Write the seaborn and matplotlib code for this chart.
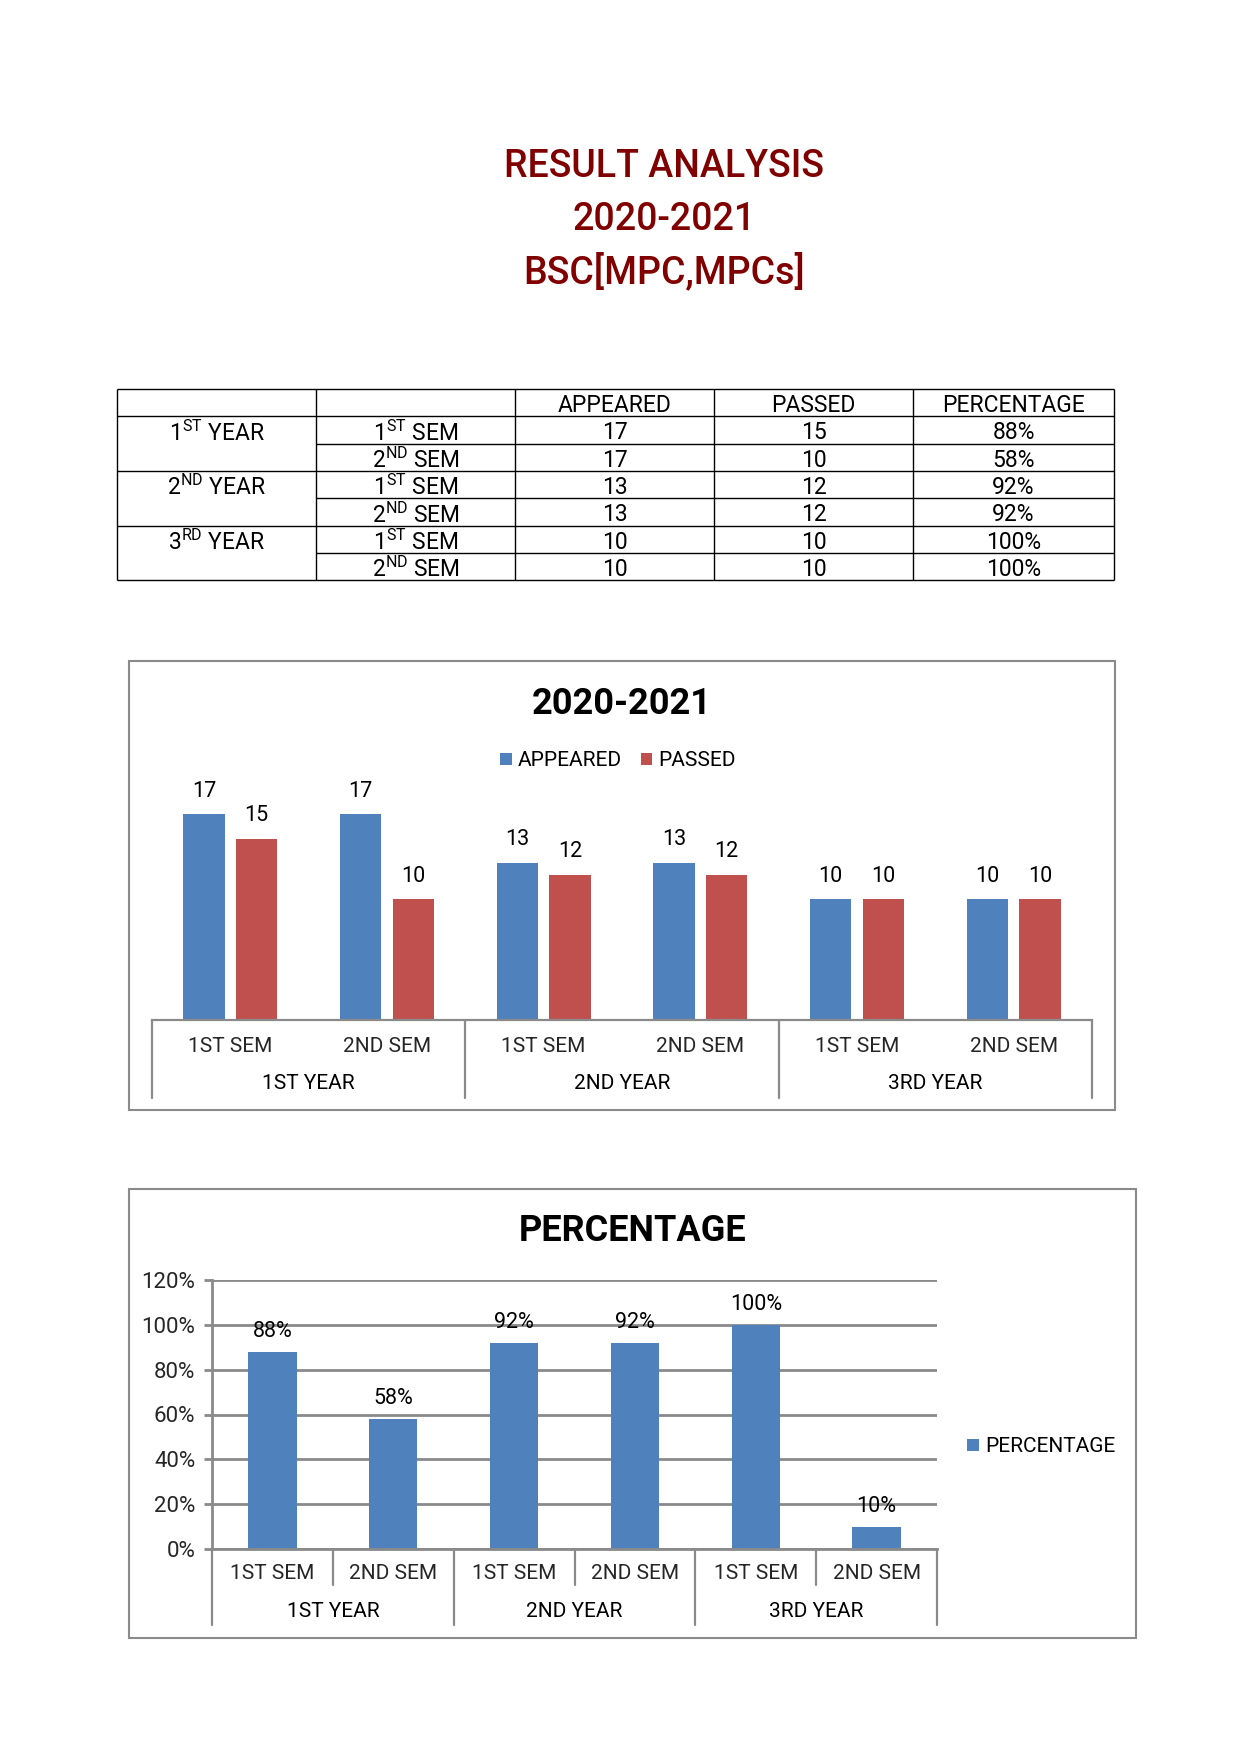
import pandas as pd
import matplotlib
matplotlib.use("Agg")
import matplotlib.pyplot as plt
import seaborn as sns
from matplotlib.patches import Rectangle

# ---- data ----
title_lines = ["RESULT ANALYSIS", "2020-2021", "BSC[MPC,MPCs]"]
years = ["1ST YEAR", "2ND YEAR", "3RD YEAR"]
year_table = [r"1$^{\rm ST}$ YEAR", r"2$^{\rm ND}$ YEAR", r"3$^{\rm RD}$ YEAR"]
sems = ["1ST SEM", "2ND SEM"]
sem_table = [r"1$^{\rm ST}$ SEM", r"2$^{\rm ND}$ SEM"]
header = ["", "", "APPEARED", "PASSED", "PERCENTAGE"]
series = ["APPEARED", "PASSED"]
appeared = [17, 17, 13, 13, 10, 10]
passed = [15, 10, 12, 12, 10, 10]
pct_table = [88, 58, 92, 92, 100, 100]
pct_chart = [88, 58, 92, 92, 100, 10]
pct_ticks = [0, 20, 40, 60, 80, 100, 120]

BLUE = "#4F81BD"
RED = "#C0504D"
TITLE_RED = "#800000"
GRAY = "#8A8A8A"
FS = 15.5

W, H = 1240, 1753

sns.set_theme(style="white")
plt.rcParams["font.family"] = ["Roboto", "DejaVu Sans"]
plt.rcParams["mathtext.fontset"] = "custom"
plt.rcParams["mathtext.rm"] = "Roboto"
plt.rcParams["text.color"] = "black"

fig = plt.figure(figsize=(W / 100, H / 100), dpi=100)


def axes_px(left, top, right, bottom):
    return fig.add_axes([left / W, 1 - bottom / H, (right - left) / W, (bottom - top) / H])


# page layer for titles, table and frames
page = fig.add_axes([0, 0, 1, 1])
page.set_xlim(0, W)
page.set_ylim(H, 0)
page.axis("off")

for txt, y in zip(title_lines, [166, 219, 272]):
    page.text(664, y, txt, ha="center", va="center", fontsize=27,
              color=TITLE_RED, fontweight="medium")

# ---- table ----
col_x = [117, 316, 515, 714, 913, 1114]
row_top, row_h = 389, 27.3
n_rows = 1 + len(appeared)
bottom = row_top + n_rows * row_h
page.vlines(col_x, row_top, bottom, color="black", lw=1)
for k in range(n_rows + 1):
    y = row_top + k * row_h
    x0 = col_x[1] if k in (2, 4, 6) else col_x[0]
    page.hlines(y, x0, col_x[-1], color="black", lw=1)


def cell(row, col, txt):
    cx = (col_x[col] + col_x[col + 1]) / 2
    cy = row_top + (row + 0.5) * row_h + 3
    page.text(cx, cy, txt, ha="center", va="center", fontsize=16.5)


for c, h in enumerate(header):
    cell(0, c, h)
for i in range(len(appeared)):
    if i % 2 == 0:
        cell(i + 1, 0, year_table[i // 2])
    cell(i + 1, 1, sem_table[i % 2])
    cell(i + 1, 2, str(appeared[i]))
    cell(i + 1, 3, str(passed[i]))
    cell(i + 1, 4, f"{pct_table[i]}%")

# chart frames
page.add_patch(Rectangle((129, 661), 986, 449, fill=False, edgecolor=GRAY, lw=1.5))
page.add_patch(Rectangle((129, 1189), 1007, 449, fill=False, edgecolor=GRAY, lw=1.5))
page.text(622, 704, "2020-2021", ha="center", va="center", fontsize=26, fontweight="bold")
page.text(633, 1231, "PERCENTAGE", ha="center", va="center", fontsize=26, fontweight="bold")

slots = [f"{y}|{s}" for y in years for s in sems]
sem_ticks = sems * len(years)

# ---- chart 1: appeared vs passed ----
df1 = pd.DataFrame({
    "slot": slots * 2,
    "count": appeared + passed,
    "series": [series[0]] * len(slots) + [series[1]] * len(slots),
})
ax1 = axes_px(152, 778, 1092, 1020)
sns.barplot(data=df1, x="slot", y="count", hue="series", order=slots, hue_order=series,
            palette=[BLUE, RED], saturation=1, width=0.67, gap=0.21, linewidth=0, ax=ax1)
ax1.set_xlim(-0.5, len(slots) - 0.5)
ax1.set_ylim(0, 20)
ax1.patch.set_alpha(0)
for s in ["top", "right", "left"]:
    ax1.spines[s].set_visible(False)
ax1.spines["bottom"].set_color(GRAY)
ax1.spines["bottom"].set_linewidth(1.6)
ax1.set_yticks([])
ax1.set_xticks(range(len(slots)))
ax1.set_xticklabels(sem_ticks, fontsize=15)
ax1.tick_params(axis="x", length=0, pad=12)
ax1.set_xlabel("")
ax1.set_ylabel("")
for cont in ax1.containers:
    ax1.bar_label(cont, fmt="%d", padding=9, fontsize=FS)
tr1 = ax1.get_xaxis_transform()
for g in range(len(years) + 1):
    x = 2 * g - 0.5
    ax1.plot([x, x], [0, -0.322], transform=tr1, color=GRAY, lw=1.6, clip_on=False)
for g, yl in enumerate(years):
    ax1.text(2 * g + 0.5, -0.262, yl, transform=tr1, ha="center", va="center", fontsize=15)
handles, labels = ax1.get_legend_handles_labels()
ax1.legend(handles, labels, loc="center", bbox_to_anchor=(618 / W, 1 - 761 / H),
           bbox_transform=fig.transFigure, ncol=2, frameon=False, fontsize=15,
           handlelength=0.55, handleheight=0.55, handletextpad=0.3,
           columnspacing=0.9, borderpad=0)

# ---- chart 2: percentage ----
df2 = pd.DataFrame({"slot": slots, "pct": pct_chart})
ax2 = axes_px(212, 1280, 937, 1549)
sns.barplot(data=df2, x="slot", y="pct", order=slots, color=BLUE, saturation=1,
            width=0.4, linewidth=0, label="PERCENTAGE", ax=ax2)
ax2.set_xlim(-0.5, len(slots) - 0.5)
ax2.set_ylim(0, 120)
ax2.patch.set_alpha(0)
ax2.set_axisbelow(True)
ax2.yaxis.grid(True, color=GRAY, lw=2)
ax2.xaxis.grid(False)
for s in ["top", "right"]:
    ax2.spines[s].set_visible(False)
for s in ["left", "bottom"]:
    ax2.spines[s].set_color(GRAY)
    ax2.spines[s].set_linewidth(2)
ax2.set_yticks(pct_ticks)
ax2.set_yticklabels([f"{v}%" for v in pct_ticks], fontsize=16)
ax2.tick_params(axis="y", length=6, width=2, color=GRAY, pad=6, left=True)
ax2.set_xticks(range(len(slots)))
ax2.set_xticklabels(sem_ticks, fontsize=15)
ax2.tick_params(axis="x", length=0, pad=11)
ax2.set_xlabel("")
ax2.set_ylabel("")
ax2.bar_label(ax2.containers[0], labels=[f"{v}%" for v in pct_chart], padding=7, fontsize=FS)
tr2 = ax2.get_xaxis_transform()
for i in range(len(slots) + 1):
    x = i - 0.5
    depth = -0.283 if i % 2 == 0 else -0.132
    ax2.plot([x, x], [0, depth], transform=tr2, color=GRAY, lw=1.6, clip_on=False)
for g, yl in enumerate(years):
    ax2.text(2 * g + 0.5, -0.232, yl, transform=tr2, ha="center", va="center", fontsize=15)
ax2.legend(loc="center left", bbox_to_anchor=(957 / W, 1 - 1447 / H),
           bbox_transform=fig.transFigure, frameon=False, fontsize=15,
           handlelength=0.55, handleheight=0.55, handletextpad=0.3, borderpad=0)

fig.savefig("out.png", dpi=100, facecolor="white")
